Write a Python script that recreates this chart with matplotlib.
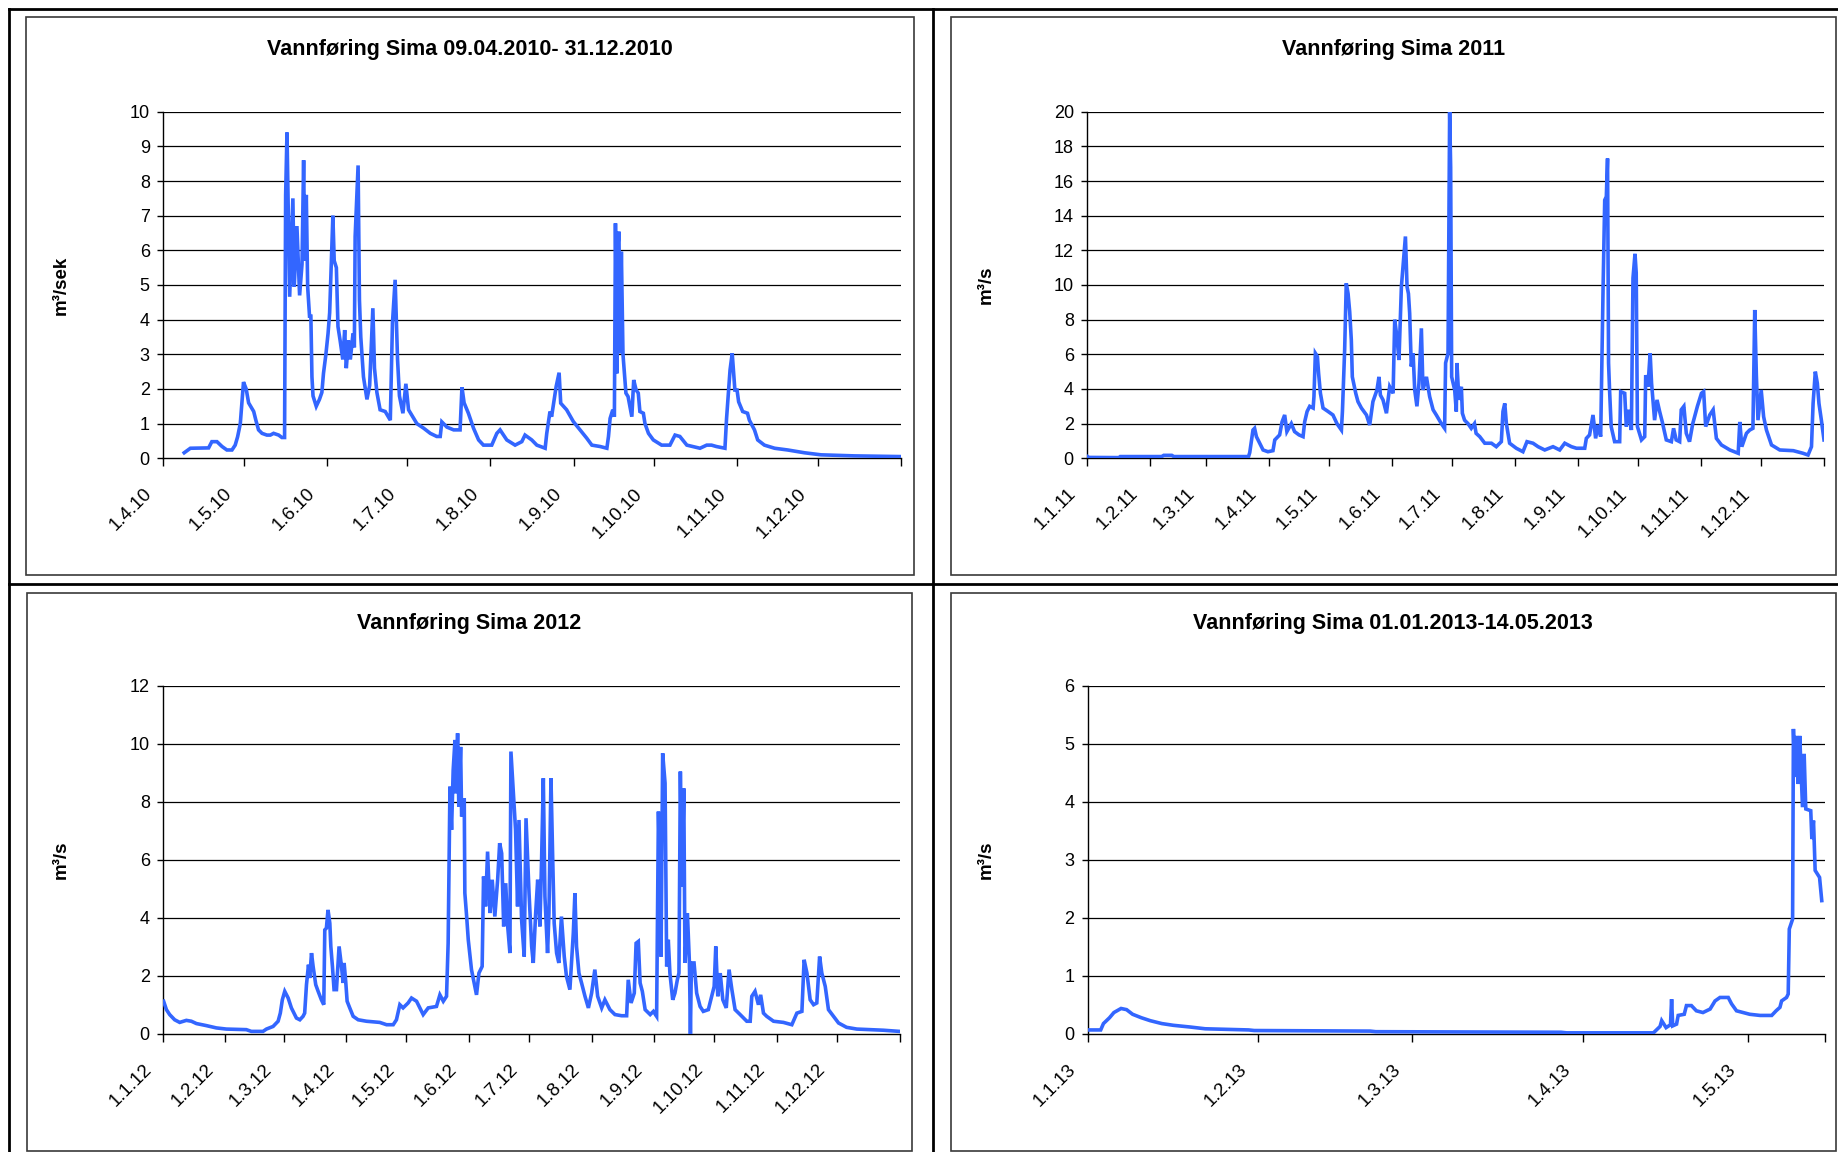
import datetime as dt
import matplotlib
matplotlib.use("Agg")
import matplotlib.pyplot as plt
from matplotlib.lines import Line2D
from matplotlib.patches import Rectangle
from matplotlib.transforms import ScaledTranslation

plt.rcParams['font.family'] = ['Liberation Sans', 'DejaVu Sans']

# ---------------------------------------------------------------- data
# Discharge (m3/s) at Sima; x = days since the first day of each axis.
days_2010 = [7.9, 10.2, 17.0, 18.2, 20.1, 22.0, 23.8, 25.7, 26.9, 27.8, 28.8, 30.0, 31.0, 31.9,
             33.8, 34.6, 35.6, 36.9, 38.7, 40.0, 41.2, 43.1, 44.3, 45.3, 45.7, 46.2, 47.2, 48.4,
             48.9, 49.9, 50.9, 51.8, 52.4, 52.8, 53.4, 53.9, 54.6, 55.1, 55.5, 55.9, 57.1, 58.3,
             59.2, 59.8, 60.7, 61.5, 62.1, 63.3, 63.8, 64.6, 65.2, 66.0, 67.0, 67.7, 68.3, 69.1,
             69.8, 70.8, 71.3, 71.6, 72.7, 73.2, 73.7, 74.7, 75.4, 76.0, 77.0, 78.2, 78.8, 79.7,
             80.9, 82.8, 84.7, 85.5, 86.5, 87.4, 88.1, 89.4, 90.5, 91.5, 94.6, 97.1, 99.6, 102.0,
             103.3, 103.9, 105.8, 108.3, 110.7, 111.4, 112.2, 113.8, 115.7, 117.6, 119.4, 122.5,
             124.4, 125.6, 128.1, 131.2, 133.7, 134.9, 137.4, 139.3, 142.4, 143.0, 144.2, 144.8,
             146.5, 147.6, 148.2, 150.4, 152.9, 155.4, 157.9, 159.8, 162.9, 165.4, 166.0, 166.6,
             167.6, 168.2, 168.6, 169.1, 169.4, 169.9, 170.3, 170.8, 171.4, 172.5, 173.3, 174.7,
             175.4, 176.3, 177.1, 177.7, 179.0, 179.6, 180.9, 182.7, 185.8, 188.9, 190.8, 192.6,
             195.2, 200.1, 202.6, 204.4, 206.2, 209.4, 210.0, 211.3, 212.1, 213.1, 213.9, 214.5,
             216.0, 217.8, 218.5, 220.4, 221.6, 224.1, 227.9, 232.8, 239.0, 245.2, 257.6, 274.7]
flow_2010 = [0.16, 0.29, 0.30, 0.48, 0.48, 0.34, 0.24, 0.24, 0.38, 0.62, 1.0, 2.2, 2.0, 1.6,
             1.35, 1.1, 0.82, 0.72, 0.67, 0.67, 0.72, 0.67, 0.6, 0.6, 7.6, 9.4, 4.66, 7.5,
             4.95, 6.7, 4.7, 5.6, 8.6, 5.7, 7.6, 4.95, 4.1, 4.1, 2.35, 1.8, 1.5, 1.7,
             1.9, 2.45, 3.0, 3.6, 4.2, 7.0, 5.7, 5.5, 3.8, 3.4, 2.85, 3.7, 2.6, 3.4,
             2.85, 3.6, 3.2, 6.4, 8.45, 4.57, 3.5, 2.35, 2.0, 1.7, 2.1, 4.33, 2.6, 1.9,
             1.4, 1.35, 1.1, 3.9, 5.15, 2.85, 1.8, 1.3, 2.15, 1.4, 1.0, 0.87, 0.72, 0.63,
             0.63, 1.05, 0.9, 0.82, 0.82, 2.05, 1.6, 1.3, 0.87, 0.53, 0.38, 0.38,
             0.72, 0.82, 0.53, 0.38, 0.48, 0.67, 0.53, 0.38, 0.29, 0.72, 1.35, 1.2,
             2.07, 2.47, 1.59, 1.4, 1.06, 0.82, 0.58, 0.38, 0.34, 0.29, 0.63, 1.15,
             1.4, 1.2, 6.78, 2.45, 6.0, 6.54, 3.03, 5.96, 3.0, 1.88, 1.78, 1.2,
             2.26, 1.97, 1.88, 1.35, 1.3, 1.0, 0.72, 0.53, 0.38, 0.38, 0.67, 0.63,
             0.38, 0.29, 0.38, 0.38, 0.34, 0.29, 1.15, 2.55, 3.03, 1.97, 1.97, 1.63,
             1.35, 1.3, 1.1, 0.82, 0.53, 0.38, 0.29, 0.24, 0.16, 0.10, 0.07, 0.05]

days_2011 = [0, 1, 16, 16.5, 37, 38, 42, 43, 80, 80.6, 82.2, 83.0, 83.9, 85.5, 87.2, 89.6, 92.1,
             93.0, 95.4, 96.6, 97.9, 99.0, 101.2, 102.8, 105.0, 107.0, 107.8, 109.0, 110.3, 112.0,
             112.4, 113.1, 114.1, 114.7, 115.6, 116.9, 119.4, 121.8, 123.8, 126.0, 126.5, 127.6,
             128.4, 129.3, 130.1, 130.9, 131.4, 133.1, 134.2, 135.9, 138.4, 140.0, 141.6, 143.6,
             144.6, 145.3, 146.6, 148.3, 149.9, 151.6, 152.4, 153.5, 154.5, 155.7, 156.5, 157.7,
             158.5, 159.2, 159.8, 160.6, 161.5, 162.3, 163.4, 164.4, 165.6, 166.4, 168.1, 169.7,
             171.4, 173.0, 175.5, 177.1, 177.6, 178.8, 179.6, 180.1, 180.6, 182.1, 182.9, 183.2,
             184.2, 185.4, 185.9, 187.0, 188.7, 190.3, 191.9, 192.7, 194.5, 197.0, 200.3, 202.7,
             205.2, 206.0, 206.9, 207.7, 209.3, 212.6, 215.9, 217.9, 220.9, 223.4, 226.7, 230.8,
             234.1, 236.6, 239.9, 242.4, 246.5, 247.3, 248.9, 250.6, 251.9, 253.0, 254.4, 255.6,
             256.4, 257.2, 257.8, 258.3, 258.8, 259.6, 261.3, 263.8, 264.3, 266.3, 267.1, 268.4,
             269.6, 270.4, 271.4, 272.0, 272.6, 274.6, 276.2, 276.7, 277.8, 278.9, 279.6, 281.1,
             282.3, 283.6, 284.9, 286.9, 289.4, 290.5, 291.8, 293.5, 294.3, 295.6, 296.8, 298.4,
             300.0, 302.3, 304.3, 305.4, 306.4, 308.4, 310.1, 311.7, 314.2, 318.4, 322.5, 323.3,
             324.3, 326.6, 328.2, 329.8, 330.7, 331.5, 332.3, 333.9, 335.1, 336.5, 339.0, 343.1,
             349.8, 354.6, 357.1, 358.8, 359.6, 360.7, 361.7, 362.5, 363.7, 365.0]
flow_2011 = [0.12, 0.05, 0.04, 0.1, 0.1, 0.17, 0.17, 0.1, 0.1, 0.33, 1.63, 1.73, 1.25, 0.87, 0.48, 0.38, 0.44,
             1.06, 1.35, 2.1, 2.5, 1.54, 2.0, 1.54, 1.35, 1.25, 2.1, 2.7, 3.0, 2.9,
             3.56, 6.06, 5.87, 4.9, 3.75, 2.9, 2.7, 2.5, 2.0, 1.63, 2.7, 6.25,
             10.1, 9.5, 8.46, 6.83, 4.7, 3.75, 3.27, 2.9, 2.5, 1.92, 3.27, 3.94,
             4.7, 3.65, 3.37, 2.6, 4.13, 3.75, 8.0, 7.0, 5.67, 9.9, 11.06, 12.8,
             9.9, 9.5, 8.37, 5.3, 6.06, 3.94, 3.0, 4.33, 7.5, 3.94, 4.7, 3.56,
             2.8, 2.5, 2.0, 1.73, 5.5, 6.06, 20.0, 16.8, 4.7, 3.94, 2.7, 5.5,
             3.37, 4.13, 2.6, 2.2, 2.0, 1.73, 2.0, 1.44, 1.25, 0.87, 0.87, 0.67,
             0.96, 2.7, 3.17, 2.0, 0.87, 0.58, 0.38, 0.96, 0.87, 0.67, 0.48, 0.67,
             0.48, 0.87, 0.67, 0.58, 0.58, 1.15, 1.35, 2.5, 1.15, 1.92, 1.25, 9.9,
             14.9, 15.1, 17.3, 5.5, 3.94, 1.83, 0.96, 0.96, 3.85, 3.75, 1.83, 2.8,
             1.63, 10.4, 11.8, 10.7, 1.83, 1.06, 1.25, 4.8, 4.13, 6.06, 4.33, 2.2,
             3.37, 2.7, 2.1, 1.06, 0.96, 1.73, 1.06, 0.96, 2.8, 3.0, 1.44, 0.96,
             2.0, 3.0, 3.75, 3.85, 1.83, 2.5, 2.8, 1.15, 0.77, 0.48, 0.29, 2.1,
             0.67, 1.44, 1.63, 1.73, 8.56, 4.8, 2.2, 3.94, 2.4, 1.63, 0.77, 0.48,
             0.44, 0.29, 0.19, 0.67, 3.17, 5.0, 4.33, 3.17, 2.2, 1.06]

days_2012 = [0.3, 1.7, 3.3, 5.8, 8.3, 11.6, 14.1, 16.6, 21.5, 26.5, 31.5, 41.4, 43.9, 49.7, 51.4,
             54.7, 57.2, 58.3, 59.3, 60.5, 62.2, 63.8, 66.3, 68.0, 69.6, 70.4, 71.3, 72.3, 72.9,
             73.8, 74.6, 75.9, 77.1, 78.7, 79.9, 80.4, 81.2, 82.0, 82.9, 83.4, 84.2, 85.0, 86.2,
             87.5, 88.7, 89.5, 90.0, 90.8, 91.5, 92.8, 94.5, 97.0, 101.1, 107.7, 111.1, 114.4,
             116.0, 117.7, 119.3, 121.8, 123.5, 126.0, 129.3, 131.8, 135.9, 137.6, 139.3, 140.9,
             141.7, 142.6, 143.4, 144.2, 145.1, 145.6, 146.4, 147.0, 147.9, 148.4, 149.7, 150.0,
             150.9, 151.7, 153.3, 155.0, 155.8, 157.0, 158.6, 159.3, 160.3, 161.3, 162.5, 163.6,
             164.9, 166.3, 167.3, 168.3, 169.3, 170.3, 171.3, 172.4, 172.9, 174.1, 175.2, 176.2,
             176.9, 178.2, 179.5, 180.4, 181.9, 183.2, 184.0, 185.2, 186.2, 187.3, 188.1, 189.0,
             189.8, 191.1, 191.8, 192.8, 193.6, 194.4, 195.6, 196.7, 198.0, 199.4, 200.5, 202.2,
             203.9, 204.7, 205.5, 206.7, 208.0, 209.7, 211.4, 213.0, 214.6, 216.0, 218.0, 219.6,
             222.1, 224.6, 227.9, 230.4, 231.2, 232.6, 234.2, 235.1, 236.2, 237.1, 238.2, 239.6,
             242.1, 243.7, 245.3, 246.2, 247.0, 247.5, 248.3, 249.5, 250.3, 251.1, 251.9, 253.3,
             254.4, 255.6, 256.4, 257.1, 257.9, 258.8, 259.4, 260.6, 261.6, 262.1, 262.6, 263.9,
             265.2, 266.9, 268.5, 271.0, 272.7, 273.9, 274.7, 275.7, 276.9, 278.2, 279.9, 281.3,
             282.7, 284.3, 286.8, 290.1, 291.8, 292.6, 294.2, 295.9, 297.0, 298.4, 300.0, 303.4,
             308.3, 312.5, 315.0, 317.5, 318.6, 320.0, 321.6, 323.3, 324.9, 326.3, 327.4, 329.1,
             330.7, 333.2, 335.7, 339.7, 344.8, 358.0, 366.0]
flow_2012 = [1.13, 0.84, 0.67, 0.49, 0.40, 0.47, 0.44, 0.36, 0.29, 0.21, 0.17, 0.15, 0.09, 0.09, 0.17,
             0.26, 0.44, 0.72, 1.18, 1.47, 1.24, 0.90, 0.55, 0.49, 0.61, 0.72, 1.70, 2.39, 1.93,
             2.79, 2.33, 1.70, 1.47, 1.18, 1.01, 3.59, 3.65, 4.28, 3.82, 3.02, 2.33, 1.53, 1.53,
             3.02, 2.33, 1.76, 2.45, 1.81, 1.13, 0.90, 0.61, 0.49, 0.44, 0.40, 0.32, 0.32,
             0.49, 1.01, 0.90, 1.07, 1.24, 1.13, 0.67, 0.90, 0.95, 1.35, 1.13, 1.30,
             3.13, 8.53, 7.04, 9.10, 10.14, 8.30, 10.37, 7.84, 9.90, 7.50, 8.13, 4.86,
             4.05, 3.25, 2.22, 1.64, 1.35, 2.10, 2.33, 5.43, 4.40, 6.29, 4.17, 5.32,
             4.05, 5.32, 6.58, 6.23, 3.71, 5.20, 3.71, 2.79, 9.74, 8.30, 7.04, 4.40,
             7.38, 3.94, 2.67, 7.44, 4.86, 3.02, 2.45, 4.17, 5.32, 3.71, 5.89, 8.82,
             4.74, 2.79, 4.17, 8.82, 6.23, 3.82, 2.79, 2.45, 4.05, 2.67, 1.99, 1.53,
             3.48, 4.86, 3.02, 2.10, 1.76, 1.30, 0.90, 1.41, 2.22, 1.30, 0.90, 1.18,
             0.84, 0.67, 0.63, 0.63, 1.87, 1.07, 1.41, 3.13, 3.19, 1.76, 1.47, 0.84,
             0.67, 0.78, 0.61, 7.67, 5.09, 2.67, 9.68, 8.65, 2.33, 3.25, 2.10, 1.18,
             1.41, 1.87, 2.10, 9.05, 5.09, 8.47, 2.45, 4.17, 2.45, 0.0, 2.45, 2.45,
             1.41, 0.95, 0.78, 0.84, 1.30, 1.64, 3.02, 1.30, 2.10, 1.18, 0.90, 2.22,
             1.53, 0.84, 0.67, 0.44, 0.44, 1.30, 1.47, 1.01, 1.35, 0.72, 0.61, 0.44,
             0.40, 0.32, 0.72, 0.78, 2.56, 2.10, 1.18, 1.01, 1.07, 2.67, 2.10, 1.64,
             0.84, 0.61, 0.38, 0.23, 0.17, 0.13, 0.09]

days_2013 = [0, 2.4, 2.9, 4.0, 4.8, 6.1, 7.1, 8.2, 9.8, 11.4, 13.5, 15.6, 18.7, 21.4, 29.3, 30.3,
             51.4, 52.4, 86.1, 87.1, 102.9, 104.1, 104.4, 105.2, 106.0, 106.2, 106.4, 107.1, 107.4,
             108.5, 108.9, 109.8, 110.7, 111.9, 113.2, 114.1, 115.0, 116.5, 117.1, 118.0, 119.2,
             120.4, 122.3, 124.4, 125.2, 125.9, 126.2, 127.1, 127.4, 127.6, 128.2, 128.35, 128.6,
             128.9, 129.2, 129.5, 130.0, 130.3, 130.6, 131.5, 131.7, 132.0, 132.3, 133.1, 133.5]
flow_2013 = [0.07, 0.07, 0.18, 0.28, 0.37, 0.44, 0.42, 0.34, 0.28, 0.23, 0.18, 0.15, 0.12, 0.09, 0.07, 0.06,
             0.05, 0.04, 0.03, 0.02, 0.02, 0.13, 0.23, 0.11, 0.16, 0.60, 0.14, 0.17, 0.32,
             0.34, 0.49, 0.49, 0.40, 0.37, 0.43, 0.57, 0.63, 0.63, 0.52, 0.40, 0.37,
             0.34, 0.32, 0.32, 0.40, 0.46, 0.57, 0.63, 0.69, 1.81, 1.98, 5.26, 4.43,
             5.14, 4.31, 5.14, 3.91, 4.83, 3.88, 3.85, 3.36, 3.68, 2.82, 2.70, 2.30]

titles = ["Vannføring Sima 09.04.2010- 31.12.2010", "Vannføring Sima 2011",
          "Vannføring Sima 2012", "Vannføring Sima 01.01.2013-14.05.2013"]
ylabels = ["m³/sek", "m³/s", "m³/s", "m³/s"]
periods = [(dt.date(2010, 4, 1), dt.date(2011, 1, 1)),
           (dt.date(2011, 1, 1), dt.date(2012, 1, 1)),
           (dt.date(2012, 1, 1), dt.date(2013, 1, 1)),
           (dt.date(2013, 1, 1), dt.date(2013, 5, 15))]
y_max = [10, 20, 12, 6]
y_step = [1, 2, 2, 1]
series = [(days_2010, flow_2010), (days_2011, flow_2011),
          (days_2012, flow_2012), (days_2013, flow_2013)]

# ---------------------------------------------------------------- layout (pixels)
W, H = 1838, 1152
DPI = 100
LINE_BLUE = '#3366ff'

fig = plt.figure(figsize=(W / DPI, H / DPI), dpi=DPI, facecolor='white')


def fx(px):
    return px / W


def fy(py):
    return 1 - py / H


# plot areas: (left, right, top, bottom) in pixels
plot_boxes = [(163, 901, 111.7, 458.3), (1087, 1824, 111.7, 458.3),
              (163, 899.5, 686, 1034), (1087.5, 1824.5, 686, 1034)]
# chart frames: (left, right, top, bottom)
frames = [(25.5, 913.5, 17, 575), (950.5, 1836, 17, 575),
          (26.5, 912, 592.5, 1151), (950.5, 1836, 592.5, 1151)]
title_y = [49, 49, 624, 624]
ylabel_x = [61.5, 986.5, 61.5, 986.5]

# page grid lines
for xs, ys in [((9, 1838), (8.5, 8.5)), ((9, 9), (8.5, 1152)),
               ((933, 933), (8.5, 1152)), ((9, 1838), (584, 584))]:
    fig.add_artist(Line2D([fx(x) for x in xs], [fy(y) for y in ys],
                          color='black', lw=2.0, transform=fig.transFigure))

for i in range(4):
    l, r, t, b = frames[i]
    fig.add_artist(Rectangle((fx(l), fy(b)), fx(r - l), (b - t) / H, fill=False,
                             edgecolor='#3a3a3a', lw=1.2, transform=fig.transFigure))

    pl, pr, pt, pb = plot_boxes[i]
    ax = fig.add_axes([fx(pl), fy(pb), fx(pr - pl), (pb - pt) / H])
    start, end = periods[i]
    ndays = (end - start).days
    days, flow = series[i]
    ax.plot(days, flow, color=LINE_BLUE, lw=2.6, solid_joinstyle='miter', zorder=3)

    ax.set_xlim(0, ndays)
    ax.set_ylim(0, y_max[i])
    yt = list(range(0, y_max[i] + 1, y_step[i]))
    ax.set_yticks(yt)
    ax.set_yticklabels([str(v) for v in yt])
    for v in yt[1:]:
        ax.axhline(v, color='black', lw=0.9, zorder=1)

    for side in ('top', 'right'):
        ax.spines[side].set_visible(False)
    for side in ('left', 'bottom'):
        ax.spines[side].set_color('black')
        ax.spines[side].set_linewidth(1.0)
    ax.tick_params(axis='x', direction='out', length=5.4, width=1.0, pad=14, colors='black')
    ax.tick_params(axis='y', direction='out', length=4.0, width=1.0, pad=5.5,
                   labelsize=13, colors='black')
    ax.set_facecolor('white')

    # month ticks
    ticks, labels = [], []
    d = start
    while d <= end:
        ticks.append((d - start).days)
        labels.append(f"{d.day}.{d.month}.{d.year % 100}" if d < end else "")
        d = dt.date(d.year + (d.month == 12), d.month % 12 + 1, 1)
    if ticks[-1] != ndays:
        ticks.append(ndays)
        labels.append("")
    ax.set_xticks(ticks)
    ax.set_xticklabels(labels, rotation=45, ha='right', va='top',
                       rotation_mode='anchor', fontsize=13.5)
    shift = ScaledTranslation(-20 / DPI, 0, fig.dpi_scale_trans)
    for lab in ax.get_xticklabels():
        lab.set_transform(lab.get_transform() + shift)

    fig.text(fx((l + r) / 2), fy(title_y[i]), titles[i], ha='center', va='center',
             fontsize=15.5, fontweight='bold')
    fig.text(fx(ylabel_x[i]), fy((pt + pb) / 2), ylabels[i], ha='center', va='center',
             rotation=90, fontsize=13.5, fontweight='bold')

fig.savefig('out.png', dpi=DPI, facecolor='white')
